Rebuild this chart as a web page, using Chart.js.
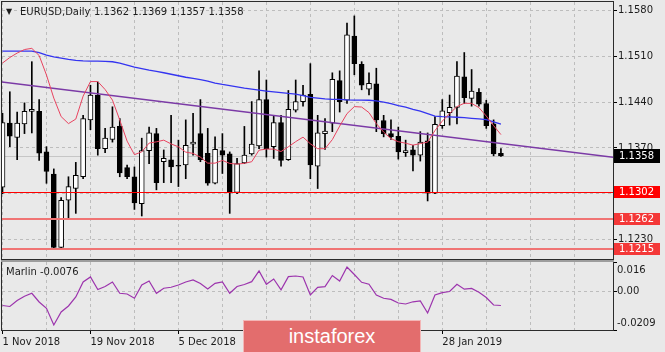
<!DOCTYPE html>
<html>
<head>
<meta charset="utf-8">
<script src="https://cdn.jsdelivr.net/npm/chart.js@4.4.1/dist/chart.umd.min.js"></script>
<style>
  html, body { margin: 0; padding: 0; background: #e9e9e9; }
  #wrap { position: relative; width: 665px; height: 352px; overflow: hidden;
          font-family: "DejaVu Sans", sans-serif; font-size: 10px; color: #1c1c1c; }
  canvas { position: absolute; left: 0; top: 0; }
  .lbl { position: absolute; white-space: nowrap; line-height: 12px; }
  #sep { position: absolute; left: 1px; top: 260px; width: 613px; height: 2px; background: #9d9d9d; }
  #wm { position: absolute; left: 243px; top: 320px; width: 176px; height: 40px;
        background: #e36d6d; border: 1px solid #f3b6b6; color: #fff; text-align: center;
        font-family: "Liberation Sans", sans-serif; font-size: 20px; line-height: 30px; }
</style>
</head>
<body>
<div id="wrap">
  <canvas id="main" width="665" height="352"></canvas>
  <canvas id="ind" width="665" height="352"></canvas>
  <div id="sep"></div>
  <div class="lbl" style="left:6px; top:6px; font-size:8px;">▼</div>
  <div class="lbl" style="left:20px; top:6px;">EURUSD,Daily</div>
  <div class="lbl" style="left:94px; top:6px;">1.1362 1.1369 1.1357 1.1358</div>
  <div class="lbl" style="left:6px; top:266px;">Marlin -0.0076</div>
  <div id="wm">instaforex</div>
</div>
<script>
// date labels, one every 12 bars
const dateLabels = ['1 Nov 2018', '19 Nov 2018', '5 Dec 2018', '21 Dec 2018', '10 Jan 2019', '28 Jan 2019'];

const opens = [1.1310,1.1408,1.1386,1.1407,1.1426,1.1426,1.1364,1.1330,1.1218,1.1290,
  1.1308,1.1326,1.1413,1.1451,1.1369,1.1383,1.1403,1.1340,1.1326,1.1285,
  1.1366,1.1392,1.1349,1.1352,1.1343,1.1344,1.1376,1.1392,1.1362,1.1316,
  1.1366,1.1361,1.1302,1.1347,1.1361,1.1373,1.1444,1.1372,1.1409,1.1352,
  1.1428,1.1441,1.1452,1.1342,1.1392,1.1408,1.1473,1.1443,1.1541,1.1498,
  1.1460,1.1468,1.1412,1.1392,1.1388,1.1363,1.1367,1.1359,1.1381,1.1301,
  1.1404,1.1424,1.1432,1.1479,1.1446,1.1455,1.1438,1.1407,1.1362];
const highs = [1.1423,1.1456,1.1425,1.1439,1.1502,1.1444,1.1372,1.1338,1.1294,1.1326,
  1.1348,1.1420,1.1466,1.1471,1.1400,1.1433,1.1415,1.1344,1.1341,1.1385,
  1.1402,1.1400,1.1367,1.1420,1.1382,1.1413,1.1423,1.1444,1.1400,1.1387,
  1.1392,1.1364,1.1354,1.1403,1.1441,1.1488,1.1474,1.1420,1.1420,1.1458,
  1.1474,1.1466,1.1499,1.1420,1.1415,1.1485,1.1488,1.1561,1.1572,1.1502,
  1.1485,1.1492,1.1420,1.1413,1.1402,1.1382,1.1374,1.1395,1.1393,1.1418,
  1.1444,1.1451,1.1502,1.1516,1.1490,1.1461,1.1443,1.1413,1.1369];
const lows = [1.1300,1.1372,1.1352,1.1392,1.1393,1.1351,1.1316,1.1216,1.1216,1.1262,
  1.1270,1.1323,1.1398,1.1359,1.1363,1.1379,1.1326,1.1323,1.1276,1.1266,
  1.1346,1.1306,1.1317,1.1317,1.1311,1.1323,1.1359,1.1349,1.1313,1.1315,
  1.1331,1.1270,1.1300,1.1346,1.1359,1.1369,1.1356,1.1354,1.1342,1.1351,
  1.1425,1.1434,1.1323,1.1308,1.1368,1.1395,1.1425,1.1438,1.1482,1.1459,
  1.1451,1.1395,1.1387,1.1383,1.1353,1.1357,1.1335,1.1350,1.1289,1.1300,
  1.1400,1.1405,1.1407,1.1438,1.1434,1.1434,1.1400,1.1358,1.1357];
const closes = [1.1409,1.1388,1.1408,1.1426,1.1429,1.1362,1.1334,1.1218,1.1290,1.1311,
  1.1328,1.1415,1.1451,1.1369,1.1385,1.1402,1.1332,1.1326,1.1286,1.1366,
  1.1393,1.1317,1.1354,1.1341,1.1342,1.1374,1.1379,1.1352,1.1316,1.1368,
  1.1359,1.1302,1.1346,1.1359,1.1376,1.1444,1.1369,1.1409,1.1351,1.1429,
  1.1441,1.1451,1.1344,1.1393,1.1396,1.1475,1.1441,1.1543,1.1499,1.1466,
  1.1469,1.1413,1.1392,1.1387,1.1364,1.1366,1.1359,1.1379,1.1301,1.1406,
  1.1427,1.1432,1.1480,1.1447,1.1457,1.1437,1.1404,1.1361,1.1358];

// slow (blue) and fast (red) moving averages
const maSlow = [1.15183,1.15183,1.15183,1.15183,1.15183,1.1516,1.15122,1.15094,1.15073,1.15054,
  1.15041,1.15033,1.1503,1.1503,1.15025,1.15019,1.14999,1.14969,1.14938,1.14915,
  1.14892,1.14872,1.14851,1.14828,1.14805,1.14782,1.14765,1.14745,1.14724,1.14693,
  1.14672,1.14655,1.14636,1.14617,1.14601,1.14586,1.14571,1.14558,1.14546,1.14534,
  1.14525,1.14502,1.14474,1.14463,1.14451,1.14445,1.14444,1.14437,1.14433,1.14433,
  1.1443,1.14422,1.14402,1.14379,1.14349,1.14326,1.1429,1.14264,1.14226,1.14188,
  1.1418,1.14176,1.1417,1.14163,1.14154,1.14145,1.14134,1.14099,1.14065];
const maFast = [1.14999,1.15084,1.15152,1.15206,1.15224,1.15114,1.14816,1.14463,1.1418,1.14073,
  1.14142,1.14494,1.14716,1.14716,1.14594,1.14433,1.14127,1.13805,1.13598,1.13641,
  1.13775,1.13794,1.1382,1.13762,1.13718,1.13637,1.13617,1.1356,1.13468,1.13468,
  1.1351,1.13464,1.13453,1.13465,1.1349,1.13667,1.13683,1.13683,1.13646,1.13718,
  1.13797,1.13866,1.13764,1.13689,1.13689,1.13828,1.14035,1.14226,1.14333,1.14326,
  1.14241,1.14073,1.13943,1.13843,1.13796,1.13773,1.13744,1.13767,1.1379,1.13966,
  1.14111,1.14226,1.14333,1.14384,1.14382,1.14318,1.14188,1.14042,1.13905];

const marlin = [-0.0076,-0.00814,-0.00488,-0.0026,-0.00098,-0.0057,-0.00912,-0.01818,-0.01112,-0.00787,
  -0.00298,0.00515,0.00787,0.00109,0.00271,0.00515,-0.00098,-0.00136,-0.00369,0.00353,
  0.0057,-0.00098,0.00174,0.00228,0.00353,0.00515,0.00624,0.00434,0.00136,0.00445,
  0.00515,-0.00098,0.00271,0.0038,0.00532,0.01112,0.00391,0.00678,0.00092,0.00803,
  0.00841,0.00787,-0.0019,0.00228,0.0026,0.00868,0.0057,0.01329,0.00922,0.00499,
  0.00391,-0.0019,-0.00369,-0.00429,-0.00624,-0.00678,-0.00559,-0.00515,-0.01167,-0.0019,
  -0.0006,0,0.00391,0.00125,0.00163,-0.00043,-0.00326,-0.00733,-0.0076];

const trendX = [-1, 84];
const trendY = [1.14721, 1.13548];
const levels = [1.1302, 1.1262, 1.1215];
const bid = 1.1358;
const priceTicks = [1.1230, 1.1300, 1.1370, 1.1440, 1.1510, 1.1580];
const marlinTicks = [0.016, 0, -0.0209];
const marlinTickLabels = ['0.016', '0.00', '-0.0209'];
const gridBars = [0, 6, 12, 18, 24, 30, 36, 42, 48, 54, 60, 66, 72, 78];

const xMin = -0.068, xMax = 83.29;
const FONT = { family: 'DejaVu Sans', size: 10 };
const GRID = '#bdbdbd';

const idx = opens.map((_, i) => i);
const bodies = idx.map(i => ({ x: i, y: [opens[i], closes[i]] }));
const wicks = idx.map(i => ({ x: i, y: [lows[i], highs[i]] }));
const bodyFill = idx.map(i => closes[i] >= opens[i] ? '#ffffff' : '#000000');

function frame(chart) {
  const { ctx, chartArea: a } = chart;
  ctx.save();
  ctx.strokeStyle = '#2b2b2b';
  ctx.lineWidth = 1;
  ctx.strokeRect(a.left - 0.5, a.top - 0.5, a.right - a.left + 1, a.bottom - a.top + 1);
  ctx.restore();
}

const mainDecor = {
  id: 'mainDecor',
  beforeDatasetsDraw(chart) {
    const { ctx, chartArea: a, scales: { y } } = chart;
    const py = Math.round(y.getPixelForValue(bid)) + 0.5;
    ctx.save();
    ctx.strokeStyle = '#c6c6c6';
    ctx.lineWidth = 1;
    ctx.beginPath(); ctx.moveTo(a.left, py); ctx.lineTo(a.right, py); ctx.stroke();
    ctx.restore();
  },
  afterDatasetsDraw(chart) {
    const { ctx, chartArea: a, scales: { y } } = chart;
    const colors = ['#ff0000', '#f07474', '#f07474'];
    const widths = [1, 2, 2];
    ctx.save();
    levels.forEach((lv, k) => {
      const py = Math.round(y.getPixelForValue(lv)) + (widths[k] === 1 ? 0.5 : 0);
      ctx.strokeStyle = colors[k];
      ctx.lineWidth = widths[k];
      ctx.beginPath(); ctx.moveTo(a.left, py); ctx.lineTo(a.right, py); ctx.stroke();
    });
    ctx.restore();
  },
  afterDraw(chart) {
    frame(chart);
    const { ctx, scales: { y } } = chart;
    const tags = [bid].concat(levels);
    const fills = ['#000000', '#ff0000', '#f43838', '#f43838'];
    const hts = [14, 12, 12, 12];
    ctx.save();
    ctx.font = '10px "DejaVu Sans"';
    ctx.textBaseline = 'middle';
    tags.forEach((v, k) => {
      const py = Math.round(y.getPixelForValue(v));
      ctx.fillStyle = fills[k];
      ctx.fillRect(614, py - hts[k] / 2, 46, hts[k]);
      ctx.fillStyle = '#ffffff';
      ctx.fillText(v.toFixed(4), 619, py + 0.5);
    });
    ctx.restore();
  }
};

new Chart(document.getElementById('main'), {
  type: 'bar',
  data: {
    datasets: [
      { type: 'line', data: maFast.map((v, i) => ({ x: i, y: v })), borderColor: '#e8435f',
        borderWidth: 1, pointRadius: 0, order: 0 },
      { type: 'line', data: maSlow.map((v, i) => ({ x: i, y: v })), borderColor: '#3434f0',
        borderWidth: 1.3, pointRadius: 0, order: 0 },
      { type: 'line', data: trendX.map((x, k) => ({ x: x, y: trendY[k] })), borderColor: '#7b3aa6',
        borderWidth: 1.5, pointRadius: 0, order: 0 },
      { data: bodies, backgroundColor: bodyFill, borderColor: '#000000', borderWidth: 1,
        borderSkipped: false, barThickness: 5, minBarLength: 1, grouped: false, order: 1 },
      { data: wicks, backgroundColor: '#000000', borderWidth: 0, barThickness: 1,
        grouped: false, order: 2 }
    ]
  },
  options: {
    responsive: false,
    animation: false,
    events: [],
    layout: { padding: { left: 2, top: 2, right: 0, bottom: 93 } },
    plugins: { legend: { display: false }, tooltip: { enabled: false } },
    scales: {
      x: {
        type: 'linear', min: xMin, max: xMax, offset: false,
        afterBuildTicks: s => { s.ticks = gridBars.map(v => ({ value: v })); },
        afterFit: s => { s.height = 0; s.paddingLeft = 0; s.paddingRight = 0; },
        ticks: { display: false },
        grid: { color: GRID, drawTicks: false, offset: false },
        border: { display: false, dash: [3, 3] }
      },
      y: {
        position: 'right', min: 1.12002, max: 1.15933,
        afterBuildTicks: s => { s.ticks = priceTicks.map(v => ({ value: v })); },
        afterFit: s => { s.width = 52; s.paddingTop = 0; s.paddingBottom = 0; },
        ticks: { font: FONT, color: '#1c1c1c', padding: 1, callback: v => v.toFixed(4) },
        grid: { color: GRID, tickColor: '#000000', tickLength: 4 },
        border: { display: false, dash: [3, 3] }
      }
    }
  },
  plugins: [mainDecor]
});

const indDecor = {
  id: 'indDecor',
  afterDraw(chart) {
    frame(chart);
    const { ctx, chartArea: a, scales: { y } } = chart;
    ctx.save();
    ctx.font = '10px "DejaVu Sans"';
    ctx.fillStyle = '#1c1c1c';
    ctx.textBaseline = 'middle';
    marlinTicks.forEach((v, k) => {
      let py = y.getPixelForValue(v);
      if (k === 0) py = a.top + 8;
      if (k === marlinTicks.length - 1) py = a.bottom - 7;
      ctx.fillText(marlinTickLabels[k], 617, py);
    });
    ctx.restore();
  }
};

const labelled = v => v % 12 === 0 && dateLabels[v / 12] !== undefined;

new Chart(document.getElementById('ind'), {
  type: 'line',
  data: {
    datasets: [
      { data: marlin.map((v, i) => ({ x: i, y: v })), borderColor: '#9c34ad',
        borderWidth: 1.2, pointRadius: 0 }
    ]
  },
  options: {
    responsive: false,
    animation: false,
    events: [],
    layout: { padding: { left: 2, top: 262, right: 0, bottom: 0 } },
    plugins: { legend: { display: false }, tooltip: { enabled: false } },
    scales: {
      x: {
        type: 'linear', min: xMin, max: xMax, offset: false,
        afterBuildTicks: s => { s.ticks = gridBars.map(v => ({ value: v })); },
        afterFit: s => { s.height = 22; s.paddingLeft = 0; s.paddingRight = 0; },
        ticks: {
          autoSkip: false, maxRotation: 0, align: 'start', padding: 2, font: FONT, color: '#1c1c1c',
          callback: v => labelled(v) ? dateLabels[v / 12] : ''
        },
        grid: {
          color: GRID, tickLength: 4,
          tickColor: c => (c.tick && labelled(c.tick.value)) ? '#000000' : 'rgba(0,0,0,0)'
        },
        border: { display: false, dash: [3, 3] }
      },
      y: {
        position: 'right', min: -0.0209, max: 0.016,
        afterBuildTicks: s => { s.ticks = marlinTicks.map(v => ({ value: v })); },
        afterFit: s => { s.width = 52; s.paddingTop = 0; s.paddingBottom = 0; },
        ticks: { display: false },
        grid: {
          color: c => (c.tick && c.tick.value === 0) ? GRID : 'rgba(0,0,0,0)',
          tickColor: '#000000', tickLength: 4
        },
        border: { display: false, dash: [3, 3] }
      }
    }
  },
  plugins: [indDecor]
});
</script>
</body>
</html>
